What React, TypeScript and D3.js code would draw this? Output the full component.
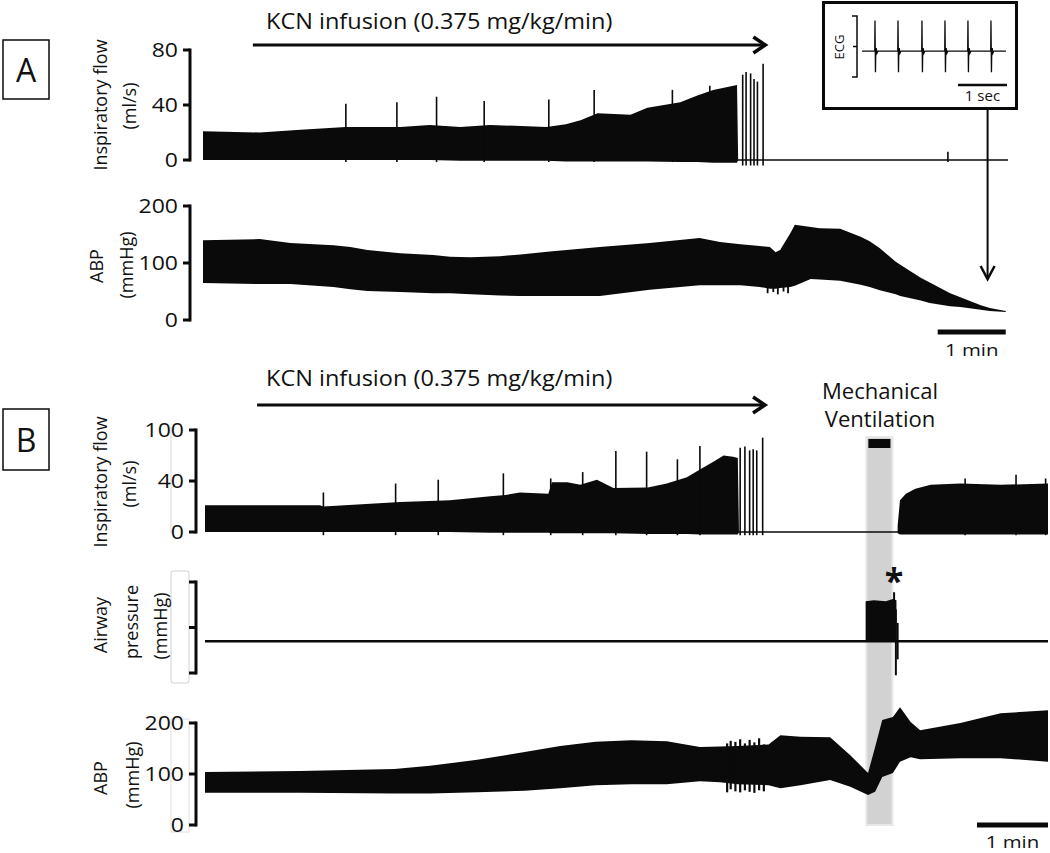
import React from "react";
import * as d3 from "d3";

// time in seconds from start of each recording; flow in ml/s, pressures in mmHg
// envelope rows: [t, top, bottom]

// ---- panel A ----
const flowEnvA: [number, number, number][] = [
  [0, 21, 0], [50, 20, 0], [86, 22, 0], [126, 24, 0], [174, 24, 0], [200, 25.5, 0],
  [227, 24, -0.5], [253, 25.5, -0.5], [303, 24, -0.5], [320, 26, -1], [333, 29, -1], [348, 34, -1],
  [377, 33, -1], [392, 38, -1], [421, 42, -1.5], [436, 47, -1.5], [450, 51, -2],
  [471, 54.5, -2], [472, 0, 0],
];
const flowSpikesA: [number, number][] = [
  [126, 41], [171, 42], [206, 46], [248, 43], [305, 44], [345, 51], [414, 51], [447, 54],
  [476, 62], [479, 64], [483, 63], [486, 59], [489, 57], [494, 70], [657, 6],
];
const flowFlatA: [number, number][] = [[471, 0], [710, 0]];
const abpA: [number, number, number][] = [
  [0, 140, 65], [50, 142, 63], [77, 135, 63], [115, 131, 58], [130, 128, 54], [145, 123, 51],
  [174, 117, 49], [203, 114, 47], [218, 111, 47], [236, 110, 45], [262, 112, 43],
  [280, 115, 42], [306, 120, 42], [350, 128, 42], [394, 135, 53], [438, 144, 61],
  [456, 137, 61], [474, 133, 61], [491, 130, 58], [500, 128, 55], [505, 119, 55],
  [509, 123, 56], [518, 152, 58], [522, 167, 60], [536, 163, 72], [544, 161, 71],
  [562, 160, 69], [580, 146, 62], [588, 138, 58], [597, 126, 52], [611, 102, 45],
  [615, 97, 42], [633, 74, 34], [641, 66, 30], [659, 47, 24], [668, 40, 23],
  [686, 26, 18], [694, 21, 16], [708, 16, 14],
];
const abpDipsA: [number, number][] = [[498, 47], [503, 49], [507, 45], [512, 50], [516, 47]];
const kcnA = [44, 496];
const scaleBarA = [648, 708];

// ECG inset (seconds, mV)
const ecgBeats = [0.265, 0.735, 1.224, 1.694, 2.163, 2.633];
const ecgShape: [number, number][] = [
  [-0.06, -0.15], [-0.005, -0.15], [0, 0.85], [0.01, -0.84], [0.016, -0.15],
  [0.025, -0.05], [0.04, -0.22], [0.06, -0.15],
];
const ecgBar = [1.96, 2.96];

// ---- panel B ----
const flowEnvB: [number, number, number][] = [
  [0, 21, 0], [97, 21, 0], [100, 20, 0], [165, 23.5, 0], [207, 25, 0], [241, 28, -0.5],
  [254, 29, -0.5], [266, 31, -0.5], [290, 30, -0.5], [293, 39, -1], [306, 39, -1],
  [317, 37, -1], [331, 41, -1], [345, 34.5, -1], [374, 35, -1.5], [390, 38, -1.5],
  [407, 43, -1.5], [418, 49, -2], [429, 55, -2], [438, 60, -2], [446, 59, -2], [450, 58, -2],
  [451, 0, 0],
];
const flowSpikesB: [number, number][] = [
  [100, 31], [161, 38], [197, 41], [252, 46], [292, 42], [319, 47], [347, 63.5], [373, 63],
  [399, 57], [418, 67.5], [452, 66], [456, 67], [460, 64], [463, 65], [466, 64], [471, 74],
  [642, 42], [685, 45], [710, 42],
];
const flowFlatB: [number, number][] = [[450, 0], [586, 0]];
const flowPostB: [number, number, number][] = [
  [585, 5, -1], [587, 25, -2], [592, 30, -2], [600, 34, -2], [613, 37, -2],
  [638, 38, -2], [672, 37, -2], [712, 38, -2],
];
const flowTicksB = [0, 40, 80];
const flowTickLabelsB = ["0", "40", "100"];

const ventWindow = [558.6, 580.6];
const airBase: [number, number][] = [[0, -6], [712, -6]];
const airBlock: [number, number, number][] = [
  [558, 11.5, -6], [565, 12, -6], [575, 11.5, -6], [581, 12.5, -6], [584, 12, -6],
];
const airSpikes: [number, number, number][] = [[582, 15.5, -6], [583.5, 8, -21], [585, 2, -14]];

const abpB: [number, number, number][] = [
  [0, 104, 63], [80, 106, 63], [160, 110, 62], [190, 116, 62], [230, 128, 64],
  [270, 143, 67], [300, 155, 72], [330, 163, 78], [360, 166, 80], [390, 164, 80],
  [418, 153, 86], [435, 154, 84], [450, 155, 80], [476, 158, 78], [486, 176, 72], [503, 173, 78],
  [528, 172, 88], [545, 137, 75], [560, 102, 59], [566, 153, 65], [572, 206, 94],
  [581, 212, 102], [587, 231, 124], [596, 202, 133], [604, 186, 129], [638, 200, 131],
  [672, 219, 131], [712, 225, 124],
];
// oscillation bursts: [t, high, low]
const abpBurstB: [number, number, number][] = [
  [441, 160, 64], [444, 165, 70], [448, 163, 66], [452, 168, 64], [456, 160, 68],
  [460, 167, 65], [464, 162, 63], [468, 170, 68], [472, 158, 66],
];
const kcnB = [44, 473];
const scaleBarB = [652, 712];

const FONT = "'Open Sans', sans-serif";
const INK = "#0a0a0a";

type Scale = d3.ScaleLinear<number, number>;

function band(x: Scale, y: Scale, rows: [number, number, number][]) {
  return d3
    .area<[number, number, number]>()
    .x((d) => x(d[0]))
    .y0((d) => y(d[2]))
    .y1((d) => y(d[1]))(rows) as string;
}

function trace(x: Scale, y: Scale, rows: [number, number][]) {
  return d3
    .line<[number, number]>()
    .x((d) => x(d[0]))
    .y((d) => y(d[1]))(rows) as string;
}

// horizontally stretched text, as in the source figure
function HText({ x, y, children, size = 20, sx = 1.12, anchor = "start", dy, weight }: any) {
  return (
    <text
      transform={`translate(${x},${y}) scale(${sx},1)`}
      dy={dy}
      textAnchor={anchor}
      fontSize={size}
      fontWeight={weight}
      fontFamily={FONT}
      fill="#111"
    >
      {children}
    </text>
  );
}

function YAxis({ x, y, ticks, labels }: { x: number; y: Scale; ticks: number[]; labels?: string[] }) {
  const [a, b] = y.range();
  return (
    <g>
      <line x1={x} x2={x} y1={a + 1.5} y2={b - 1.5} stroke={INK} strokeWidth={3} />
      {ticks.map((t, i) => (
        <g key={i}>
          <line x1={x - 7} x2={x} y1={y(t)} y2={y(t)} stroke={INK} strokeWidth={3} />
          {labels && (
            <HText x={x - 12} y={y(t)} dy="0.35em" anchor="end" size={20} sx={1.15}>
              {labels[i]}
            </HText>
          )}
        </g>
      ))}
    </g>
  );
}

function VLabel({ x, y, text, size = 18 }: { x: number; y: number; text: string; size?: number }) {
  return (
    <text
      transform={`translate(${x},${y}) rotate(-90)`}
      textAnchor="middle"
      dominantBaseline="central"
      fontSize={size}
      fontFamily={FONT}
      fill="#111"
    >
      {text}
    </text>
  );
}

function Arrow({ x1, x2, y }: { x1: number; x2: number; y: number }) {
  return (
    <g stroke={INK} fill="none">
      <line x1={x1} x2={x2 - 2} y1={y} y2={y} strokeWidth={3} />
      <path d={`M${x2 - 12},${y - 8} L${x2},${y} L${x2 - 12},${y + 8}`} strokeWidth={3.5} />
    </g>
  );
}

export default function App() {
  const xA = d3.scaleLinear().domain([0, 710]).range([203, 1008]);
  const xB = d3.scaleLinear().domain([0, 712]).range([205, 1048]);

  const yFlowA = d3.scaleLinear().domain([0, 80]).range([160, 50]);
  const yAbpA = d3.scaleLinear().domain([0, 200]).range([320, 206]);
  const yFlowB = d3.scaleLinear().domain([0, 80]).range([532, 430]);
  const yAir = d3.scaleLinear().domain([-20, 20]).range([673, 582]);
  const yAbpB = d3.scaleLinear().domain([0, 200]).range([825, 723]);

  const xEcg = d3.scaleLinear().domain([0, 2.94]).range([862, 1006]);
  const yEcg = d3.scaleLinear().domain([-1, 1]).range([77, 16]);
  const ecgPts: [number, number][] = [[0, -0.15]];
  ecgBeats.forEach((b) => ecgShape.forEach(([dt, v]) => ecgPts.push([b + dt, v])));
  ecgPts.push([2.94, -0.15]);

  const arrowX = xA(692);

  return (
    <div style={{ position: "absolute", left: 0, top: 0 }}>
      <svg width={1050} height={853} style={{ display: "block", background: "#fff" }}>
        {/* ===== Panel A ===== */}
        <rect x={3} y={40} width={46} height={59} fill="none" stroke={INK} strokeWidth={1.5} />
        <text x={26} y={70} dy="0.36em" textAnchor="middle" fontSize={32} fontFamily={FONT} fill="#111">A</text>

        <HText x={266} y={29} size={21}>KCN infusion (0.375 mg/kg/min)</HText>
        <Arrow x1={xA(kcnA[0])} x2={xA(kcnA[1])} y={45} />

        <VLabel x={100} y={105} text="Inspiratory flow" />
        <VLabel x={129} y={106} text="(ml/s)" />
        <YAxis x={190} y={yFlowA} ticks={[0, 40, 80]} labels={["0", "40", "80"]} />

        <path d={band(xA, yFlowA, flowEnvA)} fill={INK} />
        <path d={trace(xA, yFlowA, flowFlatA)} fill="none" stroke={INK} strokeWidth={1.5} />
        {flowSpikesA.map(([t, v], i) => (
          <line key={i} x1={xA(t)} x2={xA(t)} y1={yFlowA(t > 470 && t < 500 ? -4 : -1.5)} y2={yFlowA(v)} stroke={INK} strokeWidth={1.6} />
        ))}

        <VLabel x={96} y={266} text="ABP" />
        <VLabel x={126} y={265} text="(mmHg)" />
        <YAxis x={190} y={yAbpA} ticks={[0, 100, 200]} labels={["0", "100", "200"]} />
        <path d={band(xA, yAbpA, abpA)} fill={INK} />
        {abpDipsA.map(([t, v], i) => (
          <line key={i} x1={xA(t)} x2={xA(t)} y1={yAbpA(60)} y2={yAbpA(v)} stroke={INK} strokeWidth={1.8} />
        ))}

        <line x1={xA(scaleBarA[0])} x2={xA(scaleBarA[1])} y1={332} y2={332} stroke={INK} strokeWidth={5} />
        <HText x={(xA(scaleBarA[0]) + xA(scaleBarA[1])) / 2} y={356} anchor="middle" size={17} sx={1.2}>1 min</HText>

        {/* ECG inset */}
        <rect x={823.5} y={2.5} width={193} height={106} fill="#fff" stroke={INK} strokeWidth={3} />
        <path d={`M${852},${yEcg(1)} H${857} V${yEcg(-1)} H${852} M${857},${yEcg(0)} H${853}`} fill="none" stroke={INK} strokeWidth={1.5} />
        <VLabel x={839} y={47} text="ECG" size={13} />
        <path d={trace(xEcg, yEcg, ecgPts)} fill="none" stroke={INK} strokeWidth={1.3} />
        <line x1={xEcg(ecgBar[0])} x2={xEcg(ecgBar[1])} y1={85} y2={85} stroke={INK} strokeWidth={2.5} />
        <text x={(xEcg(ecgBar[0]) + xEcg(ecgBar[1])) / 2} y={101} textAnchor="middle" fontSize={15} fontFamily={FONT} fill="#111">1 sec</text>
        <g stroke={INK} fill="none" strokeWidth={2}>
          <line x1={arrowX} x2={arrowX} y1={110} y2={278} />
          <path d={`M${arrowX - 7},${266} L${arrowX},${279} L${arrowX + 7},${266}`} strokeWidth={2.5} />
        </g>

        {/* ===== Panel B ===== */}
        <rect x={3} y={409} width={46} height={61} fill="none" stroke={INK} strokeWidth={1.5} />
        <text x={26} y={440} dy="0.36em" textAnchor="middle" fontSize={32} fontFamily={FONT} fill="#111">B</text>

        <HText x={266} y={386} size={21}>KCN infusion (0.375 mg/kg/min)</HText>
        <Arrow x1={xB(kcnB[0])} x2={xB(kcnB[1])} y={405} />

        <HText x={880} y={399} anchor="middle" size={21} sx={1.05}>Mechanical</HText>
        <HText x={880} y={427} anchor="middle" size={21} sx={1.05}>Ventilation</HText>

        {/* ventilation band */}
        <rect
          x={xB(ventWindow[0])}
          y={437}
          width={xB(ventWindow[1]) - xB(ventWindow[0])}
          height={388}
          fill="#d2d2d2"
          stroke="#e8e8e8"
          strokeWidth={2}
        />
        <rect x={xB(ventWindow[0]) + 2} y={439} width={xB(ventWindow[1]) - xB(ventWindow[0]) - 4} height={9} fill={INK} />

        {/* faint boxes behind axes */}
        <line x1={171} x2={171} y1={427} y2={533} stroke="#d8d8d8" strokeWidth={1} />
        <rect x={171} y={571} width={18} height={112} fill="#fff" stroke="#d0d0d0" strokeWidth={1} rx={2} />
        <rect x={171} y={719} width={18} height={113} fill="none" stroke="#e0e0e0" strokeWidth={1} />

        <VLabel x={100} y={482} text="Inspiratory flow" />
        <VLabel x={129} y={484} text="(ml/s)" />
        <YAxis x={196} y={yFlowB} ticks={flowTicksB} labels={flowTickLabelsB} />
        <path d={band(xB, yFlowB, flowEnvB)} fill={INK} />
        <path d={band(xB, yFlowB, flowPostB)} fill={INK} />
        <path d={trace(xB, yFlowB, flowFlatB)} fill="none" stroke={INK} strokeWidth={1.5} />
        {flowSpikesB.map(([t, v], i) => (
          <line key={i} x1={xB(t)} x2={xB(t)} y1={yFlowB(-2.5)} y2={yFlowB(v)} stroke={INK} strokeWidth={1.6} />
        ))}

        <VLabel x={100} y={625} text="Airway" />
        <VLabel x={131} y={622} text="pressure" />
        <VLabel x={160} y={626} text="(mmHg)" />
        <YAxis x={196} y={yAir} ticks={[-20, 0, 20]} />
        <path d={trace(xB, yAir, airBase)} fill="none" stroke={INK} strokeWidth={2.5} />
        <path d={band(xB, yAir, airBlock)} fill={INK} />
        {airSpikes.map(([t, hi, lo], i) => (
          <line key={i} x1={xB(t)} x2={xB(t)} y1={yAir(lo)} y2={yAir(hi)} stroke={INK} strokeWidth={2} />
        ))}
        <text x={xB(582)} y={593} textAnchor="middle" fontSize={34} fontWeight="bold" fontFamily={FONT} fill="#111">*</text>

        <VLabel x={100} y={778} text="ABP" />
        <VLabel x={132} y={775} text="(mmHg)" />
        <YAxis x={196} y={yAbpB} ticks={[0, 100, 200]} labels={["0", "100", "200"]} />
        <path d={band(xB, yAbpB, abpB)} fill={INK} />
        {abpBurstB.map(([t, hi, lo], i) => (
          <line key={i} x1={xB(t)} x2={xB(t)} y1={yAbpB(lo)} y2={yAbpB(hi)} stroke={INK} strokeWidth={2.2} />
        ))}

        <line x1={xB(scaleBarB[0])} x2={xB(scaleBarB[1])} y1={825} y2={825} stroke={INK} strokeWidth={5} />
        <HText x={(xB(scaleBarB[0]) + xB(scaleBarB[1])) / 2} y={848} anchor="middle" size={17} sx={1.2}>1 min</HText>
      </svg>
    </div>
  );
}
